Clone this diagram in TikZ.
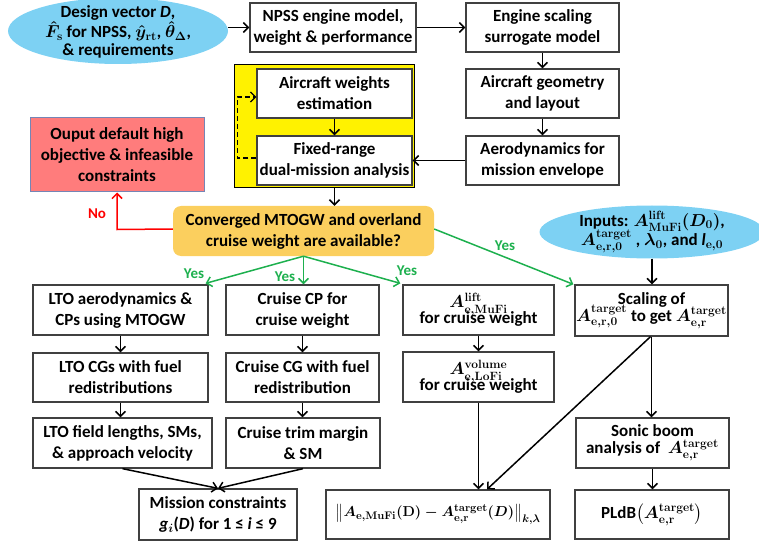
\documentclass[tikz,border=0pt]{standalone}
\usepackage{amsmath}
\usepackage{bm}
\usepackage[no-math]{fontspec}
\setmainfont{Carlito}
\usetikzlibrary{arrows.meta,shapes.geometric,calc}
\DeclareMathSizes{17}{17}{12.5}{10}
\DeclareMathSizes{14.5}{14.5}{11}{8.5}
\definecolor{skyb}{HTML}{7DD1F3}
\definecolor{gold}{HTML}{FBCF5E}
\definecolor{salmon}{HTML}{FF7C7C}
\definecolor{slateb}{HTML}{7585B5}
\definecolor{okgreen}{HTML}{1DB04E}
\definecolor{boxgray}{HTML}{404040}
\newcommand{\bA}{\bm{A}}
\newcommand{\bsb}[1]{\mathbf{#1}}
\tikzset{
  box/.style={draw=boxgray, line width=1.3pt, fill=white, inner sep=0pt, align=center},
  ellip/.style={ellipse, fill=skyb, inner sep=0pt},
  txt/.style={inner sep=0pt, align=center},
  arr/.style={line width=1.5pt, -{Straight Barb[length=5pt,width=10pt]}},
  garr/.style={arr, draw=okgreen},
  lbl/.style={inner sep=0pt, font=\fontsize{15}{18}\selectfont\bfseries},
}
\begin{document}
\begin{tikzpicture}[x=1pt,y=-1pt,
  every node/.append style={font=\fontsize{17}{21}\selectfont\bfseries\boldmath}]
\useasboundingbox (0,0) rectangle (759,545);
% ellipses
\node[ellip, minimum width=220pt, minimum height=66pt] (design) at (118,31) {};
\node[txt] at (118,32) {Design vector \textit{D},\\[-1pt]
  $\hat{\bm{F}}_{\bsb{s}}$ for NPSS, $\hat{\bm{y}}_{\bsb{rt}}$, $\hat{\bm{\theta}}_{\bm{\Delta}}$,\\[-3pt]
  \& requirements};
\node[ellip, minimum width=225pt, minimum height=53pt] (inputs) at (652,232) {};
\node[txt] at (inputs) {Inputs: $\bA^{\bsb{lift}}_{\bsb{MuFi}}(\bm{D}_{\bsb{0}})$,\\[-3pt]
  $\bA^{\bsb{target}}_{\bsb{e,r,0}}$ , $\bm{\lambda}_{\bsb{0}}$, and \textit{l}$_{\bsb{e,0}}$};
% top row
\node[box, minimum width=166pt, minimum height=49pt] (npss) at (333,27.5) {NPSS engine model,\\weight \& performance};
\node[box, minimum width=153pt, minimum height=49pt] (engine) at (542.5,27.5) {Engine scaling\\surrogate model};
\node[box, minimum width=153pt, minimum height=49pt] (geometry) at (542.5,93.5) {Aircraft geometry\\and layout};
\node[box, minimum width=153pt, minimum height=49pt] (aero) at (542.5,160.5) {Aerodynamics for\\mission envelope};
% yellow group
\node[draw=black, line width=1pt, fill=yellow, minimum width=180pt, minimum height=123pt, inner sep=0pt] (ybox) at (324,126.5) {};
\node[box, minimum width=155pt, minimum height=49pt] (weights) at (334.5,93.5) {Aircraft weights\\estimation};
\node[box, minimum width=155pt, minimum height=49pt] (fixed) at (334.5,160.5) {Fixed-range\\dual-mission analysis};
% output and decision
\node[draw=slateb, line width=1pt, fill=salmon, inner sep=0pt, align=center, minimum width=174pt, minimum height=74pt] (output) at (117,155) {Ouput default high\\objective \& infeasible\\constraints};
\node[fill=gold, rounded corners=8pt, inner sep=0pt, align=center, minimum width=261pt, minimum height=50pt] (conv) at (303.5,231) {Converged MTOGW and overland\\cruise weight are available?};
% third row
\node[box, minimum width=175pt, minimum height=50pt] (ltoaero) at (120.5,310) {LTO aerodynamics \&\\CPs using MTOGW};
\node[box, minimum width=153pt, minimum height=50pt] (cruisecp) at (302.5,310) {Cruise CP for\\cruise weight};
\node[box, minimum width=151pt, minimum height=50pt] (alift) at (478.5,310) {$\bA^{\bsb{lift}}_{\bsb{e,MuFi}}$\\[-5pt]for cruise weight};
\node[box, minimum width=153pt, minimum height=51pt] (scaling) at (651.5,310.5) {Scaling of\\[-4pt]$\bA^{\bsb{target}}_{\bsb{e,r,0}}$ to get $\bA^{\bsb{target}}_{\bsb{e,r}}$};
% fourth row
\node[box, minimum width=175pt, minimum height=49pt] (ltocg) at (120.5,377.5) {LTO CGs with fuel\\redistributions};
\node[box, minimum width=153pt, minimum height=49pt] (cruisecg) at (302.5,377.5) {Cruise CG with fuel\\redistribution};
\node[box, minimum width=151pt, minimum height=50pt] (avol) at (478.5,377) {$\bA^{\bsb{volume}}_{\bsb{e,LoFi}}$\\[-5pt]for cruise weight};
% fifth row
\node[box, minimum width=179pt, minimum height=50pt] (ltofield) at (122.5,443) {LTO field lengths, SMs,\\\& approach velocity};
\node[box, minimum width=154pt, minimum height=50pt] (cruisetrim) at (303,443) {Cruise trim margin\\\& SM};
\node[box, minimum width=153pt, minimum height=50pt] (sonic) at (652.5,443) {Sonic boom\\[-4pt]analysis of~ $\bA^{\bsb{target}}_{\bsb{e,r}}$};
% bottom row
\node[box, minimum width=158pt, minimum height=51pt] (mission) at (218,514.5) {Mission constraints\\\textit{g$_{i}$}(\textit{D}) for 1 ≤ \textit{i} ≤ 9};
\node[box, minimum width=224pt, minimum height=49pt] (norm) at (438,514.5) {\fontsize{14.5}{18}\selectfont$\bigl\|\bA_{\bsb{e,MuFi}}(\bsb{D}) - \bA^{\bsb{target}}_{\bsb{e,r}}(\bm{D})\bigr\|_{\bm{k},\bm{\lambda}}$};
\node[box, minimum width=154pt, minimum height=49pt] (pldb) at (652,514.5) {PLdB$\bigl(\bA^{\bsb{target}}_{\bsb{e,r}}\bigr)$};
% connectors top
\draw[arr] (npss.west -| design.east) -- (npss.west);
\draw[arr] (npss.east) -- (engine.west);
\draw[arr] (engine.south) -- (geometry.north);
\draw[arr] (geometry.south) -- (aero.north);
\draw[arr] (aero.west) -- (fixed.east);
\draw[arr] (weights.south) -- (fixed.north);
\draw[arr, line width=1.3pt, dash pattern=on 5pt off 3pt] ($(fixed.west)+(0,-2.5)$) -- ++(-19,0) |- ($(weights.west)+(0,3.5)$);
\draw[arr] (fixed.south |- ybox.south) -- (fixed.south |- conv.north);
% no branch
\draw[arr, draw=red] ($(conv.west)+(0,-2)$) -- ($(output.south)+(0,37)$) -- (output.south);
\node[lbl, text=red] (nolbl) at (97,214) {No};
% yes branches
\draw[garr] (conv.south) -- ($(ltoaero.north east)+(-3,-1)$);
\draw[garr] (conv.south) -- (conv.south |- cruisecp.north);
\draw[garr] (conv.south) -- ($(alift.north west)+(-2,-1)$);
\draw[garr] ($(conv.east)+(0,-2)$) -- ($(scaling.north west)+(-1,0)$);
\node[lbl, text=okgreen] (y1) at (194,274) {Yes};
\node[lbl, text=okgreen] (y2) at (285,277) {Yes};
\node[lbl, text=okgreen] (y3) at (407,271) {Yes};
\node[lbl, text=okgreen] (y4) at (505,246) {Yes};
% columns
\draw[arr] (inputs.south) -- (inputs.south |- scaling.north);
\draw[arr] (ltoaero.south) -- (ltocg.north);
\draw[arr] (ltocg.south) -- (ltocg.south |- ltofield.north);
\draw[arr] (cruisecp.south) -- (cruisecg.north);
\draw[arr] (cruisecg.south) -- (cruisecg.south |- cruisetrim.north);
\draw[arr] (alift.south) -- (avol.north);
\draw[arr] (avol.south) -- (avol.south |- norm.north);
\draw[arr] ($(scaling.south)+(-1,0)$) -- ($(norm.north)+(49,0)$);
\draw[arr] (scaling.south) -- (scaling.south |- sonic.north);
\draw[arr] (sonic.south) -- (sonic.south |- pldb.north);
\draw[arr] (ltofield.south) -- (mission.north);
\draw[arr] (cruisetrim.south) -- (mission.north);
\end{tikzpicture}
\end{document}
